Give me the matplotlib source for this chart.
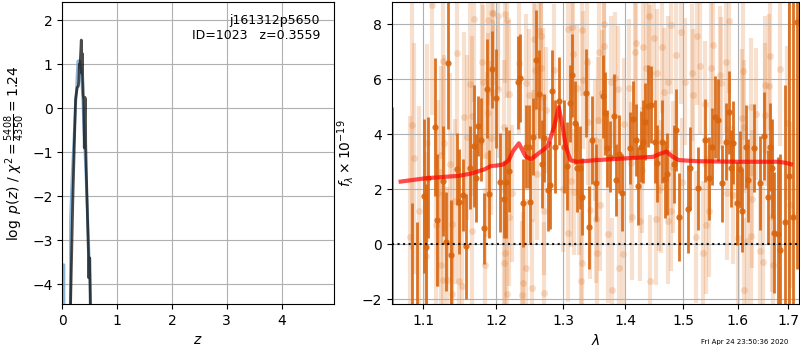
import numpy as np
import matplotlib
matplotlib.use('Agg')
import matplotlib.pyplot as plt
from matplotlib.ticker import FixedLocator, ScalarFormatter, NullLocator

# redshift PDF (left panel)
z_fit = [0.0, 0.018, 0.025, 0.032, 0.14, 0.147, 0.175, 0.209, 0.258, 0.282, 0.30,
         0.319, 0.344, 0.368, 0.405, 0.454, 0.491, 0.53, 0.6]
logp_fit = [-9.0, -9.0, -3.55, -9.0, -9.0, -2.55, -1.6, -0.73, 0.48, 1.07, 1.08,
            1.07, 0.86, 0.30, -0.80, -2.24, -3.45, -5.0, -9.0]
z_chi = [0.10, 0.15, 0.19, 0.24, 0.27, 0.29, 0.30, 0.31, 0.32, 0.335, 0.345, 0.35,
         0.355, 0.36, 0.37, 0.38, 0.39, 0.40, 0.41, 0.42, 0.425, 0.44, 0.46, 0.475,
         0.48, 0.49, 0.50, 0.51, 0.55]
logp_chi = [-9.0, -4.4, -2.1, 0.2, 0.47, 0.5, 0.6, 1.0, 0.9, 1.3, 1.55, 1.2,
            0.8, 1.25, 0.7, 0.3, 0.2, -0.9, 0.25, 0.2, -0.8, -1.6, -2.6, -3.3,
            -3.85, -3.4, -3.4, -4.6, -9.0]

# binned spectrum (dark points)
lam_bin = [1.0605, 1.0861, 1.0926, 1.1013, 1.1039, 1.1071, 1.1155, 1.1186, 1.1266, 1.1302,
           1.1333, 1.1373, 1.1456, 1.1483, 1.1530, 1.1575, 1.1635, 1.1683, 1.1719, 1.1747,
           1.1785, 1.1832, 1.1874, 1.1903, 1.1940, 1.2000, 1.2060, 1.2109, 1.2146, 1.2190,
           1.2313, 1.2352, 1.2387, 1.2437, 1.2477, 1.2501, 1.2545, 1.2590, 1.2635, 1.2671,
           1.2711, 1.2763, 1.2798, 1.2828, 1.2879, 1.2941, 1.3009, 1.3056, 1.3097, 1.3139,
           1.3175, 1.3217, 1.3269, 1.3296, 1.3350, 1.3404, 1.3452, 1.3521, 1.3632, 1.3658,
           1.3699, 1.3749, 1.3803, 1.3836, 1.3886, 1.3942, 1.4070, 1.4127, 1.4171, 1.4211,
           1.4255, 1.4296, 1.4336, 1.4383, 1.4439, 1.4496, 1.4531, 1.4630, 1.4683, 1.4718,
           1.4829, 1.4877, 1.4918, 1.5087, 1.5116, 1.5268, 1.5389, 1.5463, 1.5524, 1.5574,
           1.5638, 1.5712, 1.5774, 1.5836, 1.5874, 1.5919, 1.5983, 1.6046, 1.6093, 1.6156,
           1.6208, 1.6311, 1.6434, 1.6521, 1.6586, 1.6633, 1.6680, 1.6720, 1.6787, 1.6840,
           1.6930, 1.7020, 1.7100, 1.7176]
flux_bin = [-3.0, -2.5, -2.8, 1.77, -0.09, 2.42, 4.25, 0.88, 2.30, 0.10,
            6.59, -0.39, 2.74, 1.55, 1.79, -0.07, 2.79, 3.57, 2.42, 4.30,
            3.80, 0.58, 5.65, 1.83, 6.36, 5.31, 2.25, 1.64, 2.25, 2.67,
            5.88, 6.04, 1.49, 3.55, 3.55, 1.53, 3.91, 6.70, 5.45, 2.92,
            3.86, 1.97, 2.16, 5.57, 3.55, 5.22, 3.55, 2.85, 5.13, 6.14,
            4.42, 2.79, 2.79, 1.73, 5.49, 0.62, 3.78, 2.24, 5.37, 4.76,
            3.49, 3.19, 4.67, 2.34, 3.28, 1.88, 3.49, 4.55, 3.78, 2.12,
            3.55, 3.73, 4.46, 5.03, 5.07, 3.73, 2.94, 3.73, 2.36, 2.56,
            2.92, 4.16, 0.98, 1.30, 2.76, 2.04, 3.78, 2.40, 3.55, 4.62,
            4.52, 2.22, 3.73, 4.79, 2.76, 3.69, 1.49, 2.73, 1.22, 3.55,
            2.33, 3.49, 2.22, 3.93, 1.73, 3.55, 2.76, 0.42, 0.39, -0.21,
            0.8, 2.5, 1.0, 8.09]
err_bin = [8.0, 4.0, 3.6, 2.8, 2.3, 2.2, 2.5, 2.4, 2.0, 1.8,
           2.4, 2.0, 1.3, 1.9, 1.3, 1.9, 1.5, 2.2, 1.6, 1.1,
           1.5, 1.3, 1.8, 1.6, 1.4, 1.8, 1.8, 1.4, 2.0, 1.5,
           1.7, 1.6, 1.6, 1.5, 1.5, 1.5, 1.4, 1.8, 1.6, 1.6,
           1.6, 1.5, 1.6, 1.5, 1.7, 1.6, 1.7, 1.6, 1.4, 1.5,
           1.5, 1.6, 1.5, 1.4, 1.6, 1.5, 1.6, 1.4, 1.5, 1.5,
           1.4, 1.3, 1.5, 1.3, 1.4, 1.4, 1.3, 1.4, 1.3, 1.4,
           1.3, 1.5, 1.4, 1.5, 1.4, 1.5, 1.4, 1.5, 1.4, 1.5,
           1.4, 1.5, 1.6, 1.6, 1.5, 1.5, 1.5, 1.5, 1.4, 1.5,
           1.5, 1.4, 1.4, 1.5, 1.4, 1.5, 1.5, 1.4, 1.5, 1.5,
           1.5, 1.6, 1.7, 1.6, 1.7, 1.6, 1.8, 2.2, 2.8, 3.5,
           5.0, 8.0, 9.0, 9.0]

# unbinned spectrum (light points)
lam_raw = [1.1114, 1.0853, 1.0876, 1.0831, 1.0952, 1.1046, 1.1235, 1.1266, 1.1460, 1.1356,
           1.1684, 1.1639, 1.1549, 1.1662, 1.1796, 1.1819, 1.1886, 1.1940, 1.1890, 1.1922,
           1.1864, 1.1240, 1.1258, 1.1316, 1.1482, 1.1518, 1.1392, 1.1033, 1.1199, 1.1168,
           1.1280, 1.1424, 1.1383, 1.1665, 1.1841, 1.1594,
           1.1952, 1.2028, 1.2129, 1.2155, 1.1955, 1.2030, 1.2180, 1.2119, 1.2332, 1.2433,
           1.2473, 1.2560, 1.2635, 1.2661, 1.2562, 1.2663, 1.2737, 1.2686, 1.2863, 1.3066,
           1.3141, 1.3293, 1.3369, 1.3217, 1.3303, 1.3152, 1.3394, 1.2183, 1.2132, 1.2119,
           1.2155, 1.2433, 1.2393, 1.2372, 1.2524, 1.2701, 1.2711, 1.2595, 1.3066, 1.3167,
           1.3116, 1.3253, 1.3420, 1.3293, 1.3283, 1.2990, 1.2534, 1.2231,
           1.3640, 1.4398, 1.4477, 1.4951, 1.4780, 1.4181, 1.4295, 1.4153, 1.3565, 1.3645,
           1.3611, 1.4352, 1.4409, 1.4534, 1.4626, 1.4865, 1.4666, 1.4723, 1.5150, 1.5036,
           1.3754, 1.3868, 1.4056, 1.3828, 1.3543, 1.3508, 1.3583, 1.3512, 1.3714, 1.3526,
           1.3953, 1.3885, 1.3782, 1.4420, 1.4113, 1.4238, 1.4512, 1.4727, 1.4785, 1.4609,
           1.4284, 1.4569, 1.4808, 1.4968, 1.4096, 1.3970,
           1.5842, 1.5243, 1.5545, 1.5307, 1.5500, 1.5790, 1.6112, 1.6640, 1.6833, 1.6531,
           1.6614, 1.6981, 1.5178, 1.5661, 1.5693, 1.5391, 1.6254, 1.6357, 1.6080, 1.6535,
           1.6116, 1.5404, 1.5223, 1.5352, 1.5468, 1.6015, 1.6258, 1.6176, 1.6434, 1.6486,
           1.6692, 1.6120, 1.6273, 1.6679, 1.7033, 1.5795, 1.5919]
flux_raw = [8.70, 4.34, 3.13, 0.26, 1.21, 3.68, 3.26, 6.66, 6.95, 2.92,
            8.18, 5.82, 4.62, 4.65, 6.62, 5.91, 8.16, 8.40, 4.76, 3.86,
            3.26, -0.75, -1.30, -1.30, -1.33, -1.52, -1.81, -0.43, 1.85, 0.70,
            3.68, 1.57, 0.73, 0.49, -0.75, 3.89,
            8.40, 8.30, 8.37, 8.13, 5.55, 5.63, 5.46, 4.28, 6.58, 5.85,
            5.43, 7.45, 7.73, 7.55, 6.33, 6.40, 4.88, 5.34, 6.33, 7.82,
            7.91, 7.79, 6.64, 5.67, 5.97, 6.90, 4.46, 1.00, -0.33, -0.69,
            -1.81, -0.87, -1.42, -1.85, -1.58, -1.78, 1.20, 2.55, 0.40, 1.90,
            2.30, 1.92, 1.25, -0.69, -1.33, 2.02, 3.22, 1.85,
            8.01, 8.30, 7.49, 7.70, 7.97, 7.31, 7.18, 6.97, 6.97, 7.21,
            5.49, 6.40, 6.21, 6.24, 7.18, 6.88, 5.55, 5.91, 6.24, 5.91,
            5.91, 5.63, 5.67, 6.03, 4.52, 3.78, 1.43, 0.91, 0.38, -0.33,
            -0.36, -0.87, -1.64, -1.33, 0.99, 0.86, 0.91, 0.85, 1.22, 2.10,
            2.70, 1.97, 2.82, 2.28, 2.97, 4.37,
            8.10, 7.57, 7.25, 6.47, 6.40, 6.64, 6.28, 6.85, 6.36, 5.79,
            5.75, 4.42, 5.43, 6.15, 5.85, 5.10, 4.98, 4.74, 4.59, 4.71,
            4.28, 0.70, 0.28, -0.30, 1.22, 0.25, 0.30, 0.13, -0.23, -0.63,
            -0.75, -1.64, 1.64, 0.98, 1.43, 1.85, 1.79]
err_raw = [4.0, 4.5, 4.2, 4.4, 3.8, 3.6, 3.2, 3.4, 3.0, 3.3,
           3.0, 3.2, 3.1, 2.9, 3.0, 2.8, 3.1, 3.0, 2.9, 2.8,
           3.0, 3.5, 3.2, 3.4, 3.0, 3.1, 3.3, 3.8, 3.4, 3.6,
           3.2, 3.0, 3.3, 2.9, 2.8, 3.0,
           2.6, 2.7, 2.5, 2.8, 2.6, 2.5, 2.7, 2.4, 2.6, 2.5,
           2.4, 2.6, 2.5, 2.7, 2.4, 2.6, 2.3, 2.5, 2.4, 2.6,
           2.5, 2.4, 2.6, 2.3, 2.5, 2.4, 2.3, 2.5, 2.6, 2.4,
           2.7, 2.5, 2.6, 2.7, 2.5, 2.6, 2.3, 2.4, 2.5, 2.3,
           2.4, 2.3, 2.5, 2.6, 2.5, 2.3, 2.4, 2.5,
           2.6, 2.5, 2.4, 2.6, 2.5, 2.4, 2.3, 2.5, 2.6, 2.4,
           2.3, 2.4, 2.5, 2.3, 2.4, 2.5, 2.3, 2.4, 2.5, 2.3,
           2.4, 2.3, 2.5, 2.4, 2.3, 2.2, 2.4, 2.3, 2.5, 2.4,
           2.3, 2.5, 2.6, 2.4, 2.3, 2.2, 2.4, 2.3, 2.2, 2.4,
           2.3, 2.2, 2.4, 2.3, 2.2, 2.4,
           2.6, 2.5, 2.4, 2.5, 2.4, 2.6, 2.5, 2.7, 2.8, 2.5,
           2.6, 2.8, 2.4, 2.5, 2.4, 2.3, 2.5, 2.4, 2.5, 2.6,
           2.4, 2.5, 2.4, 2.6, 2.4, 2.5, 2.6, 2.4, 2.6, 2.7,
           2.8, 2.6, 2.5, 2.7, 3.0, 2.4, 2.5]

# best-fit model
lam_model = [1.071, 1.103, 1.148, 1.166, 1.184, 1.193, 1.200, 1.210, 1.218, 1.224,
             1.233, 1.243, 1.251, 1.261, 1.276, 1.286, 1.293, 1.299, 1.304, 1.311,
             1.321, 1.352, 1.447, 1.458, 1.470, 1.481, 1.492, 1.524, 1.600, 1.680,
             1.695, 1.705]
flux_model = [2.28, 2.40, 2.49, 2.58, 2.73, 2.85, 2.86, 2.90, 3.05, 3.37,
              3.67, 3.19, 3.09, 3.28, 3.55, 4.28, 4.98, 4.28, 3.55, 3.06,
              3.00, 3.06, 3.18, 3.28, 3.37, 3.18, 3.06, 3.02, 3.00, 3.00,
              2.96, 2.91]

orange = '#d9650e'

fig = plt.figure(figsize=(8, 3.5), dpi=100)

# left panel: p(z)
ax1 = fig.add_axes([0.078, 0.131, 0.339, 0.864])
ax1.plot(z_fit, logp_fit, color='#6fa3cf', alpha=0.8, lw=2)
ax1.plot(z_chi, logp_chi, color='k', alpha=0.7, lw=2)
ax1.set_xlim(0, 4.95)
ax1.set_ylim(-4.45, 2.42)
ax1.set_xticks([0, 1, 2, 3, 4])
ax1.grid()
ax1.set_xlabel(r'$z$')
ax1.set_ylabel(r'$\log\ p(z)$ / $\chi^2=\frac{5408}{4350}=1.24$')
ax1.text(0.95, 0.96, 'j161312p5650\nID=1023   z=0.3559', ha='right', va='top',
         transform=ax1.transAxes, fontsize=9)

# right panel: spectrum
ax2 = fig.add_axes([0.49, 0.131, 0.509, 0.864])
ax2.errorbar(lam_raw, flux_raw, yerr=err_raw, fmt='o', color=orange, alpha=0.2,
             ms=5, lw=3, mew=0, zorder=1)
ax2.errorbar(lam_bin, flux_bin, yerr=err_bin, fmt='o', color=orange, alpha=0.9,
             ms=4.5, lw=2, mew=0, zorder=2)
ax2.plot(lam_model, flux_model, color='r', alpha=0.7, lw=3, zorder=3)
ax2.axhline(0, color='k', ls=':', lw=1.5, alpha=0.9, zorder=4)
ax2.set_xscale('log')
ax2.set_xlim(1.06, 1.722)
ax2.set_ylim(-2.17, 8.81)
ax2.xaxis.set_major_locator(FixedLocator([1.1, 1.2, 1.3, 1.4, 1.5, 1.6, 1.7]))
ax2.xaxis.set_major_formatter(ScalarFormatter())
ax2.xaxis.set_minor_locator(NullLocator())
ax2.grid()
ax2.set_xlabel(r'$\lambda$')
ax2.set_ylabel(r'$f_\lambda \times 10^{-19}$')

fig.text(1 - 0.015, 0.015, 'Fri Apr 24 23:50:36 2020', ha='right', va='bottom', fontsize=5)

fig.savefig('out.png', dpi=100)
